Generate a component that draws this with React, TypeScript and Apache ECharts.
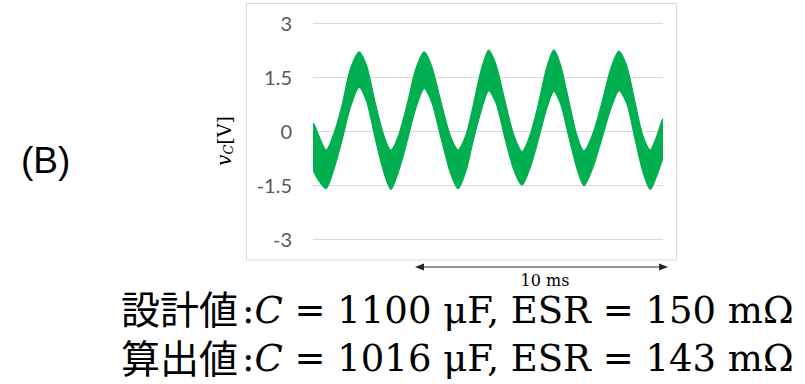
import React, { useEffect, useRef } from "react";
import * as echarts from "echarts";

// time axis (ms) of the sampled envelope points
const timeMs = [0, 0.51, 0.83, 1.15, 1.46, 1.82, 2.13, 2.45, 2.77, 3.08, 3.40, 3.72, 4.05, 4.39, 4.70, 5.06, 5.40, 5.73, 6.05, 6.32, 6.64, 6.94, 7.25, 7.59, 7.92, 8.26, 8.58, 8.89, 9.21, 9.51, 9.80, 10.12, 10.42, 10.71, 11.07, 11.42, 11.76, 12.09, 12.41, 12.73, 13.02, 13.32, 13.58, 13.83];
// upper envelope of v_C (V)
const upperV = [0.21, -0.53, -0.06, 0.72, 1.69, 2.2, 1.79, 0.81, -0.06, -0.53, -0.08, 0.74, 1.7, 2.2, 1.78, 0.8, -0.08, -0.53, -0.1, 0.68, 1.68, 2.25, 1.8, 0.82, -0.08, -0.57, -0.1, 0.7, 1.7, 2.25, 1.79, 0.8, -0.1, -0.55, -0.05, 0.8, 1.72, 2.22, 1.78, 0.78, -0.1, -0.53, -0.15, 0.33];
// lower envelope of v_C (V)
const lowerV = [-1.05, -1.6, -1.05, -0.25, 0.62, 1.22, 0.8, -0.18, -1.08, -1.62, -1.08, -0.28, 0.6, 1.18, 0.78, -0.2, -1.1, -1.6, -1.1, -0.3, 0.55, 1.12, 0.74, -0.22, -1.05, -1.5, -1.02, -0.28, 0.56, 1.1, 0.72, -0.2, -1.02, -1.52, -1.0, -0.2, 0.6, 1.12, 0.74, -0.24, -1.1, -1.62, -1.25, -0.7];
const yTicks = [-3, -1.5, 0, 1.5, 3];
const xRange = [0, 13.83];
const arrowStartMs = 4.03;
const arrowSpanMs = 10;
const arrowLabel = "10 ms";
const panelLabel = "(B)";
const kanjiLabels = ["設計値", "算出値"];
const mathTails = [" = 1100 μF, ESR = 150 mΩ", " = 1016 μF, ESR = 143 mΩ"];

const GREEN = "#00b050";

export default function App() {
  const ref = useRef<HTMLDivElement>(null);
  useEffect(() => {
    document.body.style.margin = "0";
    const chart = echarts.init(ref.current!, undefined, { renderer: "svg" });
    chart.setOption({
      animation: false,
      grid: { left: 313, right: 142, top: 23, bottom: 145 },
      xAxis: { type: "value", min: xRange[0], max: xRange[1], show: false },
      yAxis: {
        type: "value",
        min: yTicks[0],
        max: yTicks[yTicks.length - 1],
        interval: yTicks[1] - yTicks[0],
        axisLine: { show: false },
        axisTick: { show: false },
        axisLabel: { color: "#595959", fontFamily: "Lato", fontSize: 20, margin: 21 },
        splitLine: { lineStyle: { color: "#d9d9d9", width: 1 } },
      },
      series: [
        {
          type: "custom",
          clip: true,
          data: timeMs.map((t, i) => [t, upperV[i], lowerV[i]]),
          encode: { x: 0, y: [1, 2] },
          renderItem: (params: any, api: any) => {
            if (params.dataIndex !== 0) return null;
            const top = timeMs.map((t, i) => api.coord([t, upperV[i]]));
            const bottom = timeMs.map((t, i) => api.coord([t, lowerV[i]])).reverse();
            return {
              type: "polygon",
              shape: { points: top.concat(bottom), smooth: 0.25 },
              style: { fill: GREEN, stroke: GREEN, lineWidth: 1.2 },
            };
          },
        },
      ],
    });
    const ax1 = chart.convertToPixel({ xAxisIndex: 0 }, arrowStartMs) as number;
    const ax2 = chart.convertToPixel({ xAxisIndex: 0 }, arrowStartMs + arrowSpanMs) as number;
    const ay = 267;
    const ac = "#262626";
    const fs = 37;
    const mathText = mathTails.map((m) => "{r|:}{i|C}{r|" + m + "}").join("\n");
    chart.setOption({
      graphic: [
        {
          type: "rect",
          z: -10,
          shape: { x: 246.5, y: 3.5, width: 430, height: 256.5 },
          style: { fill: "none", stroke: "#d9d9d9", lineWidth: 1 },
        },
        {
          type: "text",
          x: 21,
          y: 160,
          style: { text: panelLabel, fontFamily: "Liberation Sans", fontSize: 37, fill: "#000", verticalAlign: "middle" },
        },
        {
          type: "text",
          x: 224,
          y: 141,
          rotation: Math.PI / 2,
          style: {
            text: "{v|v}{s|C}{n|[V]}",
            align: "center",
            verticalAlign: "middle",
            rich: {
              v: { fontFamily: "DejaVu Serif", fontStyle: "italic", fontSize: 20, lineHeight: 22, fill: "#000" },
              s: { fontFamily: "DejaVu Serif", fontStyle: "italic", fontSize: 13, lineHeight: 13, verticalAlign: "bottom", fill: "#000" },
              n: { fontFamily: "DejaVu Serif", fontSize: 19, lineHeight: 22, fill: "#000" },
            },
          },
        },
        {
          type: "line",
          shape: { x1: ax1 + 6, y1: ay, x2: ax2 - 6, y2: ay },
          style: { stroke: ac, lineWidth: 1.2 },
        },
        {
          type: "polygon",
          shape: { points: [[ax1, ay], [ax1 + 9, ay - 3.5], [ax1 + 9, ay + 3.5]] },
          style: { fill: ac },
        },
        {
          type: "polygon",
          shape: { points: [[ax2, ay], [ax2 - 9, ay - 3.5], [ax2 - 9, ay + 3.5]] },
          style: { fill: ac },
        },
        {
          type: "text",
          x: 545,
          y: 280,
          style: { text: arrowLabel, fontFamily: "DejaVu Serif", fontSize: 16, lineHeight: 16, fill: "#000", align: "center", verticalAlign: "middle" },
        },
        {
          type: "text",
          x: 121,
          y: 331.5,
          style: {
            text: kanjiLabels.join("\n"),
            fontFamily: "Noto Sans CJK JP",
            fontSize: 39,
            lineHeight: 49,
            fill: "#000",
            verticalAlign: "middle",
          },
        },
        {
          type: "text",
          x: 242,
          y: 334.25,
          style: {
            text: mathText,
            verticalAlign: "middle",
            rich: {
              r: { fontFamily: "DejaVu Serif", fontSize: fs, lineHeight: 48.5, fill: "#000" },
              i: { fontFamily: "DejaVu Serif", fontSize: fs, lineHeight: 48.5, fontStyle: "italic", fill: "#000" },
            },
          },
        },
      ],
    });
    return () => chart.dispose();
  }, []);
  return <div ref={ref} style={{ width: 805, height: 384 }} />;
}
